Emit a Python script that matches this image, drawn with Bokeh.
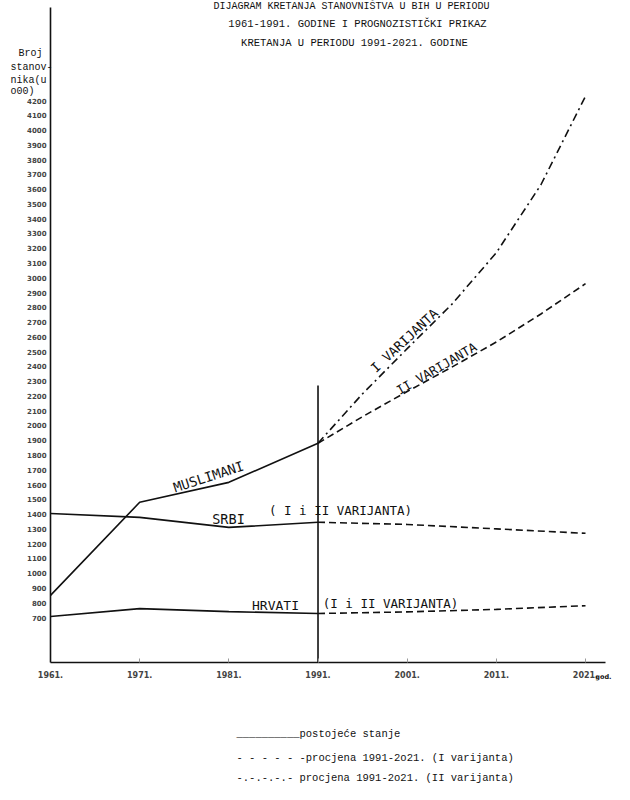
from bokeh.plotting import figure
from bokeh.models import Label, Range1d, FixedTicker, LinearAxis
from bokeh.embed import file_html
from bokeh.resources import INLINE
import math

# ---------------- data ----------------
census_years = [1961, 1971, 1981, 1991]
muslimani = [850, 1480, 1615, 1880]
srbi = [1404, 1378, 1310, 1345]
hrvati = [707, 760, 740, 727]

proj_years = [1991, 1996, 2001, 2006, 2011, 2016, 2021]
musl_var_upper = [1880, 2215, 2520, 2820, 3170, 3630, 4230]   # dash-dot
musl_var_lower = [1880, 2060, 2230, 2395, 2565, 2755, 2960]   # dashed

proj_years_short = [1991, 2001, 2011, 2021]
srbi_proj = [1345, 1330, 1300, 1270]
hrvati_proj = [727, 738, 755, 780]

split_year = 1991
split_top = 2270

x_ticks = [1961, 1971, 1981, 1991, 2001, 2011, 2021]
x_tick_labels = ["1961.", "1971.", "1981.", "1991.", "2001.", "2011.", "2021."]
y_ticks = list(range(700, 4300, 100))

title_lines = [
    "DIJAGRAM KRETANJA STANOVNIŠTVA U BIH U PERIODU",
    "1961-1991. GODINE I PROGNOZISTIČKI PRIKAZ",
    "KRETANJA U PERIODU 1991-2021. GODINE",
]
ytitle_lines = ["Broj", "stanov-", "nika(u", "o00)"]
legend_lines = [
    "__________postojeće stanje",
    "- - - - - -procjena  1991-2o21. (I varijanta)",
    "-.-.-.-.-  procjena 1991-2o21. (II varijanta)",
]

# ---------------- layout ----------------
W, H = 614, 784
PX_PER_YEAR = 8.917
PX_PER_UNIT = 0.1477

def X(px):
    return 1961 + (px - 50) / PX_PER_YEAR

def Y(py):
    return 700 + (617 - py) / PX_PER_UNIT

p = figure(width=W, height=H, output_backend="svg", toolbar_location=None,
           x_range=Range1d(X(0), X(W)), y_range=Range1d(Y(H), Y(0)),
           x_axis_location=None, y_axis_location=None, min_border=0)
p.outline_line_color = None
p.background_fill_color = "white"
p.border_fill_color = "white"
for g in p.grid:
    g.visible = False

hand_font = "DejaVu Sans Mono"
tick_font = "DejaVu Sans"
mono_font = "Liberation Mono"
col = "#111111"

axis_y_val = Y(662)

xaxis = LinearAxis(fixed_location=axis_y_val, bounds=(1961, X(605)),
                   ticker=FixedTicker(ticks=x_ticks))
xaxis.major_label_overrides = dict(zip(x_ticks, x_tick_labels))
xaxis.axis_line_width = 1.6
xaxis.axis_line_color = col
xaxis.major_tick_in = 4
xaxis.major_tick_out = 0
xaxis.major_tick_line_color = "#999999"
xaxis.minor_tick_line_color = None
xaxis.major_label_text_font = tick_font
xaxis.major_label_text_font_size = "8px"
xaxis.major_label_text_font_style = "bold"
xaxis.major_label_standoff = 8
p.add_layout(xaxis, "below")

yaxis = LinearAxis(fixed_location=1961, bounds=(axis_y_val, Y(7)),
                   ticker=FixedTicker(ticks=y_ticks))
yaxis.axis_line_width = 1.6
yaxis.axis_line_color = col
yaxis.major_tick_in = 0
yaxis.major_tick_out = 0
yaxis.major_tick_line_color = None
yaxis.minor_tick_line_color = None
yaxis.major_label_text_font = tick_font
yaxis.major_label_text_font_size = "7px"
yaxis.major_label_text_font_style = "bold"
yaxis.major_label_standoff = 4
p.add_layout(yaxis, "left")

# lines
lw = 1.6
p.line(census_years, muslimani, line_color=col, line_width=lw)
p.line(census_years, srbi, line_color=col, line_width=lw)
p.line(census_years, hrvati, line_color=col, line_width=lw)
p.line(proj_years, musl_var_upper, line_color=col, line_width=lw, line_dash="8 4 2 4")
p.line(proj_years, musl_var_lower, line_color=col, line_width=lw, line_dash="7 4")
p.line(proj_years_short, srbi_proj, line_color=col, line_width=lw, line_dash="7 4")
p.line(proj_years_short, hrvati_proj, line_color=col, line_width=lw, line_dash="7 4")
p.segment(x0=[split_year], y0=[axis_y_val], x1=[split_year], y1=[split_top],
          line_color=col, line_width=lw)

def add_label(text, px, py, size, font=hand_font, align="center", angle=0.0, style="normal"):
    p.add_layout(Label(x=X(px), y=Y(py), text=text, text_font=font,
                       text_font_size=size, text_align=align, text_baseline="middle",
                       angle=math.radians(angle), text_color=col,
                       text_font_style=style))

# title
add_label(title_lines[0], 351, 6, "10px", font=mono_font)
add_label(title_lines[1], 357, 23, "10.5px", font=mono_font)
add_label(title_lines[2], 354, 42, "10.5px", font=mono_font)

# y axis title
add_label(ytitle_lines[0], 18, 53, "10px", font=mono_font, align="left")
add_label(ytitle_lines[1], 10, 67, "10px", font=mono_font, align="left")
add_label(ytitle_lines[2], 10, 80, "10px", font=mono_font, align="left")
add_label(ytitle_lines[3], 10, 91, "10px", font=mono_font, align="left")

# x unit
add_label("god.", 611, 676, "6.5px", font=tick_font, align="right", style="bold")

# in-chart annotations (hand lettering)
add_label("MUSLIMANI", 208, 476, "13.5px", angle=18)
add_label("SRBI", 228, 518, "13.5px")
add_label("( I i II VARIJANTA)", 340, 510, "12.5px")
add_label("HRVATI", 275, 605, "13px")
add_label("(I i II VARIJANTA)", 390, 603, "12.5px")
add_label("I VARIJANTA", 404, 340, "13px", angle=43)
add_label("II VARIJANTA", 436, 368, "12.5px", angle=30)

# legend
add_label(legend_lines[0], 236, 733, "10.5px", font=mono_font, align="left")
add_label(legend_lines[1], 236, 757, "10.5px", font=mono_font, align="left")
add_label(legend_lines[2], 236, 777, "10.5px", font=mono_font, align="left")

open("out.html", "w").write(file_html(p, INLINE))
